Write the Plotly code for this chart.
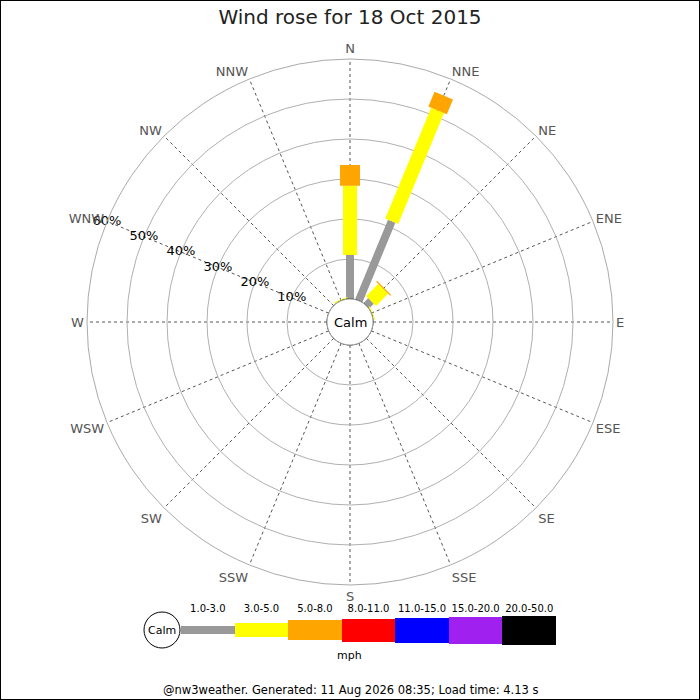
import plotly.graph_objects as go

# wind rose data (percent of time), 16 compass points
directions = ['N', 'NNE', 'NE', 'ENE', 'E', 'ESE', 'SE', 'SSE',
              'S', 'SSW', 'SW', 'WSW', 'W', 'WNW', 'NW', 'NNW']
angles = [i * 22.5 for i in range(16)]

bins = ['1.0-3.0', '3.0-5.0', '5.0-8.0', '8.0-11.0', '11.0-15.0', '15.0-20.0', '20.0-50.0']
bin_colors = ['#999999', '#ffff00', '#ffa500', '#ff0000', '#0000ff', '#a020f0', '#000000']
bin_widths = [8, 14, 20, 23, 25, 27, 29]

# percent per direction for each speed bin (only the first three are non zero)
pct_1_3 = [11.0, 21.5, 1.7, 0, 0, 0, 0, 0, 0, 0, 0, 0, 0, 0, 0, 0]
pct_3_5 = [17.3, 30.0, 4.3, 0.3, 0, 0, 0, 0, 0, 0, 0, 0, 0, 0, 0, 0.3]
pct_5_8 = [5.2, 4.0, 0.3, 0, 0, 0, 0, 0, 0, 0, 0, 0, 0, 0, 0, 0]
speed_pcts = [pct_1_3, pct_3_5, pct_5_8]

radial_ticks = [10, 20, 30, 40, 50, 60]
radial_label_dir = 292.5   # WNW

W = H = 700
cx, cy, R, calm_r = 350, 322, 263, 23

fig = go.Figure()

# stacked segments, one trace per speed bin
base = [0.0] * 16
for k, vals in enumerate(speed_pcts):
    rr, tt = [], []
    for i, v in enumerate(vals):
        if v > 0:
            rr += [base[i], base[i] + v, None]
            tt += [angles[i], angles[i], None]
            base[i] += v
    fig.add_trace(go.Scatterpolar(
        r=rr, theta=tt, mode='lines', connectgaps=False,
        line=dict(color=bin_colors[k], width=bin_widths[k]),
        showlegend=False, hoverinfo='skip'))

# calm circle at the hole edge
fig.add_trace(go.Scatterpolar(
    r=[0] * 73, theta=[i * 5 for i in range(73)], mode='lines',
    line=dict(color='black', width=1), showlegend=False, hoverinfo='skip'))

# radial tick labels sitting on the WNW spoke
fig.add_trace(go.Scatterpolar(
    r=radial_ticks, theta=[radial_label_dir] * len(radial_ticks), mode='text',
    text=[f'{v}%' for v in radial_ticks],
    textfont=dict(size=13, color='black', family='DejaVu Sans'),
    showlegend=False, hoverinfo='skip'))

# speed legend as bars on a hidden cartesian axis
fig.add_trace(go.Bar(
    x=list(range(len(bins))), y=bin_widths, base=[-w / 2 for w in bin_widths],
    width=1, marker=dict(color=bin_colors, line=dict(width=0)),
    xaxis='x', yaxis='y', showlegend=False, hoverinfo='skip'))

fig.update_layout(
    width=W, height=H,
    margin=dict(l=0, r=0, t=0, b=0),
    paper_bgcolor='white', plot_bgcolor='white',
    font=dict(family='DejaVu Sans', color='black'),
    title=dict(text='Wind rose for 18 Oct 2015', x=0.5, xanchor='center',
               y=1 - 17 / H, yanchor='middle',
               font=dict(size=20, family='DejaVu Sans', color='#222')),
    polar=dict(
        domain=dict(x=[(cx - R) / W, (cx + R) / W],
                    y=[(H - cy - R) / H, (H - cy + R) / H]),
        hole=calm_r / R,
        bgcolor='white',
        angularaxis=dict(
            rotation=90, direction='clockwise',
            tickmode='array', tickvals=angles, ticktext=directions,
            tickfont=dict(size=13, color='#555'),
            ticks='', showline=True, linecolor='#aaaaaa', linewidth=1,
            showgrid=True, gridcolor='#555555', griddash='dot', gridwidth=1),
        radialaxis=dict(
            range=[0, 60], tickvals=radial_ticks, showticklabels=False,
            angle=157.5, showline=False, ticks='',
            showgrid=True, gridcolor='#b0b0b0', gridwidth=1)),
    xaxis=dict(domain=[181 / W, 556 / W], range=[-0.5, 6.5],
               tickmode='array', tickvals=list(range(len(bins))), ticktext=bins,
               side='top', ticks='', tickangle=0, showgrid=False, zeroline=False,
               showline=False, tickfont=dict(size=10, color='black'), fixedrange=True),
    yaxis=dict(domain=[(H - 630 - 15) / H, (H - 630 + 15) / H], range=[-15, 15],
               visible=False, fixedrange=True),
    bargap=0,
)

fig.add_annotation(text='Calm', x=cx / W, y=(H - cy) / H, xref='paper', yref='paper',
                   xanchor='center', yanchor='middle',
                   showarrow=False, font=dict(size=13, color='black'))
fig.add_shape(type='circle', xref='paper', yref='paper',
              x0=144 / W, x1=180 / W, y0=(H - 648) / H, y1=(H - 612) / H,
              line=dict(color='black', width=1), fillcolor='white')
fig.add_annotation(text='Calm', x=162 / W, y=(H - 630) / H, xref='paper', yref='paper',
                   xanchor='center', yanchor='middle',
                   showarrow=False, font=dict(size=11, color='black'))
fig.add_annotation(text='mph', x=349 / W, y=(H - 655) / H, xref='paper', yref='paper',
                   xanchor='center', yanchor='middle',
                   showarrow=False, font=dict(size=11, color='black'))
fig.add_annotation(text='@nw3weather. Generated: 11 Aug 2026 08:35; Load time: 4.13 s',
                   x=0.5, y=(H - 690) / H, xref='paper', yref='paper',
                   xanchor='center', yanchor='middle',
                   showarrow=False, font=dict(size=11.5, color='black'))
fig.add_shape(type='rect', xref='paper', yref='paper', x0=0, x1=1, y0=0, y1=1,
              line=dict(color='black', width=2))

fig.write_html('out.html', config={'displayModeBar': False},
               post_script="document.body.style.margin='0px';")
